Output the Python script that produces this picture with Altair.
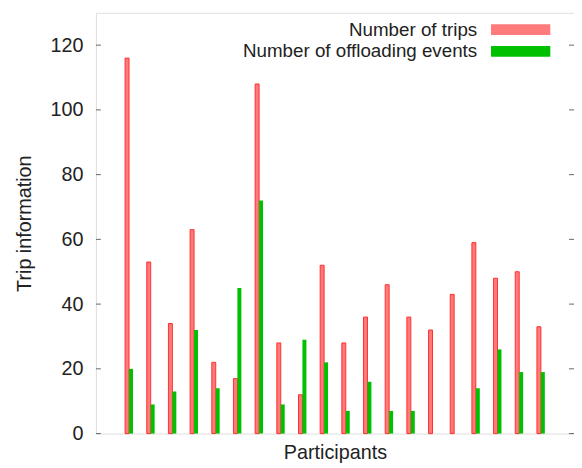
import altair as alt
import pandas as pd

participants = list(range(1, 21))
trips = [116, 53, 34, 63, 22, 17, 108, 28, 12, 52, 28, 36, 46, 36, 32, 43, 59, 48, 50, 33]
offloads = [20, 9, 13, 32, 14, 45, 72, 9, 29, 22, 7, 16, 7, 7, 0, 0, 14, 26, 19, 19]
series_names = ["Number of trips", "Number of offloading events"]
y_ticks = [0, 20, 40, 60, 80, 100, 120]

df_trips = pd.DataFrame({"participant": participants, "value": trips, "series": series_names[0]})
df_off = pd.DataFrame({"participant": participants, "value": offloads, "series": series_names[1]})
df_off = df_off[df_off["value"] > 0]
df_ticks = pd.DataFrame({"tick": y_ticks})

W, H = 484, 426
FONT = "Liberation Sans"
TXT = "#222222"

xscale = alt.Scale(domain=[-0.3, 21.3], nice=False, zero=False)
yscale = alt.Scale(domain=[0, 130], nice=False)
color_scale = alt.Scale(domain=series_names, range=["#ff7a7a", "#00c000"])

legend = alt.Legend(
    title=None, orient="none", legendX=366, legendY=7, columns=1,
    symbolType="M-3,-0.55L3,-0.55L3,0.55L-3,0.55Z", symbolSize=400,
    rowPadding=2, labelAlign="right", labelOffset={"expr": "-54"}, symbolOffset=54,
    labelFontSize=19, labelFont=FONT, labelColor=TXT, labelLimit=0,
    symbolStrokeWidth=0, symbolOpacity=1,
)

x_enc = alt.X(
    "participant:Q", scale=xscale,
    axis=alt.Axis(title="Participants", labels=False, ticks=False, domain=False, grid=False,
                  titleFontSize=20, titleFont=FONT, titleFontWeight="normal",
                  titlePadding=9, titleColor=TXT),
)
y_axis = alt.Axis(title="Trip information", values=y_ticks, ticks=False, domain=False, grid=False,
                  labelFontSize=20, labelFont=FONT, labelColor=TXT, labelPadding=13,
                  titleFontSize=20, titleFont=FONT, titleFontWeight="normal",
                  titlePadding=16, titleColor=TXT)
y_enc = alt.Y("value:Q", scale=yscale, axis=y_axis)

bars_trips = alt.Chart(df_trips).mark_bar(size=4, xOffset=-2, stroke="#ff3030", strokeWidth=1).encode(
    x=x_enc, y=y_enc,
    color=alt.Color("series:N", scale=color_scale, legend=legend),
)
bars_off = alt.Chart(df_off).mark_bar(size=4, xOffset=2).encode(
    x=x_enc, y=y_enc,
    color=alt.Color("series:N", scale=color_scale, legend=legend),
)

ticks_left = alt.Chart(df_ticks).mark_rule(color="#666666").encode(
    y=alt.Y("tick:Q", scale=yscale, axis=y_axis), x=alt.value(0), x2=alt.value(5)
)
ticks_right = alt.Chart(df_ticks).mark_rule(color="#666666").encode(
    y=alt.Y("tick:Q", scale=yscale, axis=y_axis), x=alt.value(W - 5), x2=alt.value(W)
)

chart = alt.layer(ticks_left, ticks_right, bars_trips, bars_off).properties(
    width=W, height=H,
    autosize=alt.AutoSizeParams(type="none"),
    padding={"left": 89, "top": 2, "right": 0, "bottom": 32},
).configure_view(stroke="#555555", strokeWidth=1).configure(font=FONT, background="white")

chart.save("out.html", embed_options={"renderer": "svg", "actions": False})
